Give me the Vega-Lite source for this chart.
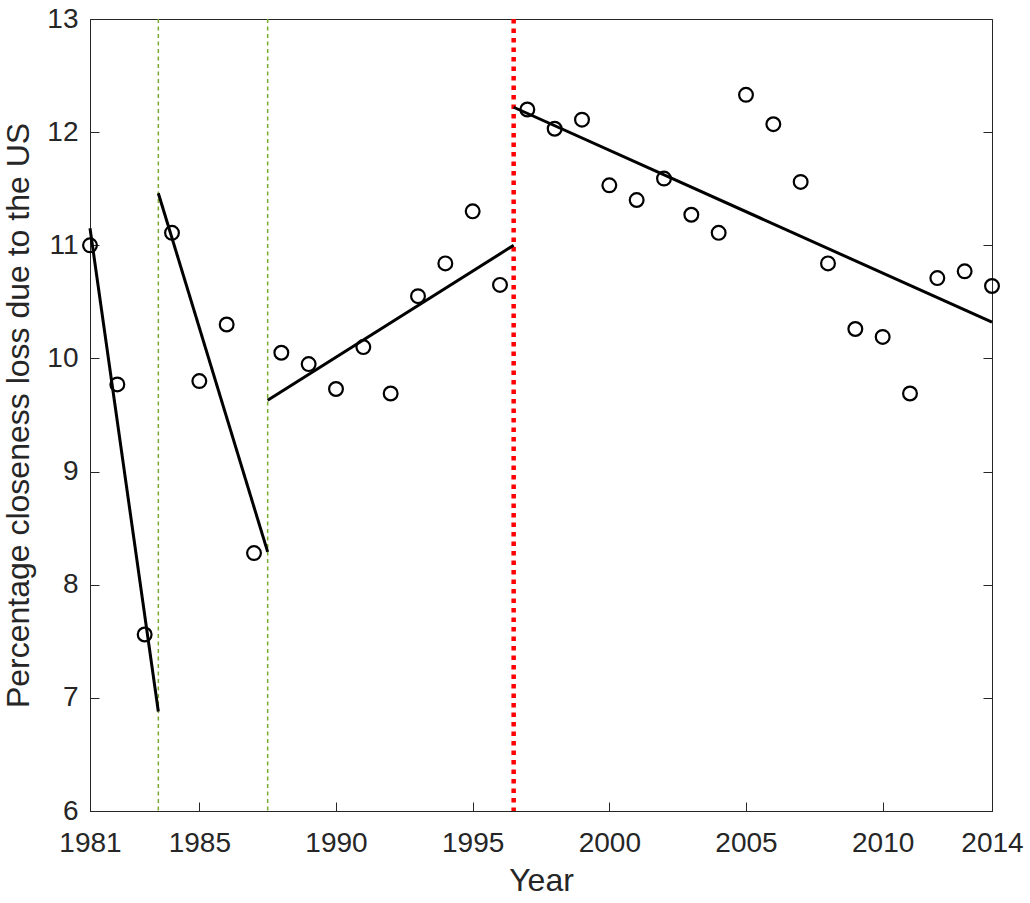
{
  "$schema": "https://vega.github.io/schema/vega-lite/v6.json",
  "width": 902,
  "height": 792,
  "autosize": {"type": "none"},
  "padding": {"left": 90, "top": 19, "right": 38, "bottom": 92},
  "background": "white",
  "config": {
    "view": {"stroke": "#262626", "strokeWidth": 1},
    "font": "Liberation Sans",
    "axis": {
      "grid": false,
      "domainColor": "#262626",
      "tickColor": "#262626",
      "labelColor": "#262626",
      "titleColor": "#262626",
      "labelFont": "Liberation Sans",
      "titleFont": "Liberation Sans",
      "labelFontSize": 28,
      "titleFontSize": 32,
      "titleFontWeight": "normal",
      "labelFlush": false,
      "labelOverlap": false,
      "tickSize": -9,
      "tickWidth": 1,
      "domainWidth": 1
    }
  },
  "datasets": {
    "pts": [
      {"year": 1981, "value": 11.00},
      {"year": 1982, "value": 9.77},
      {"year": 1983, "value": 7.56},
      {"year": 1984, "value": 11.11},
      {"year": 1985, "value": 9.80},
      {"year": 1986, "value": 10.30},
      {"year": 1987, "value": 8.28},
      {"year": 1988, "value": 10.05},
      {"year": 1989, "value": 9.95},
      {"year": 1990, "value": 9.73},
      {"year": 1991, "value": 10.10},
      {"year": 1992, "value": 9.69},
      {"year": 1993, "value": 10.55},
      {"year": 1994, "value": 10.84},
      {"year": 1995, "value": 11.30},
      {"year": 1996, "value": 10.65},
      {"year": 1997, "value": 12.20},
      {"year": 1998, "value": 12.03},
      {"year": 1999, "value": 12.11},
      {"year": 2000, "value": 11.53},
      {"year": 2001, "value": 11.40},
      {"year": 2002, "value": 11.59},
      {"year": 2003, "value": 11.27},
      {"year": 2004, "value": 11.11},
      {"year": 2005, "value": 12.33},
      {"year": 2006, "value": 12.07},
      {"year": 2007, "value": 11.56},
      {"year": 2008, "value": 10.84},
      {"year": 2009, "value": 10.26},
      {"year": 2010, "value": 10.19},
      {"year": 2011, "value": 9.69},
      {"year": 2012, "value": 10.71},
      {"year": 2013, "value": 10.77},
      {"year": 2014, "value": 10.64}
    ],
    "fit": [
      {"seg": 1, "year": 1981, "value": 11.15},
      {"seg": 1, "year": 1983.5, "value": 6.88},
      {"seg": 2, "year": 1983.5, "value": 11.46},
      {"seg": 2, "year": 1987.5, "value": 8.29},
      {"seg": 3, "year": 1987.5, "value": 9.63},
      {"seg": 3, "year": 1996.5, "value": 11.00},
      {"seg": 4, "year": 1996.5, "value": 12.22},
      {"seg": 4, "year": 2014, "value": 10.32}
    ],
    "green": [{"year": 1983.5}, {"year": 1987.5}],
    "red": [{"year": 1996.5}]
  },
  "resolve": {"axis": {"y": "independent"}},
  "encoding": {
    "x": {"field": "year", "type": "quantitative",
          "scale": {"domain": [1981, 2014], "nice": false, "zero": false},
          "axis": {"title": "Year", "values": [1981,1985,1990,1995,2000,2005,2010,2014], "format": "d", "labelPadding": 27, "titlePadding": 8}}
  },
  "layer": [
    {
      "data": {"name": "green"},
      "mark": {"type": "rule", "color": "#77AC30", "strokeWidth": 1.5, "strokeDash": [4, 3.5]}
    },
    {
      "data": {"name": "red"},
      "mark": {"type": "rule", "color": "#FF0000", "strokeWidth": 4.5, "strokeDash": [4.5, 5]}
    },
    {
      "data": {"name": "fit"},
      "mark": {"type": "line", "color": "black", "strokeWidth": 3},
      "encoding": {
        "y": {"field": "value", "type": "quantitative", "scale": {"domain": [6, 13], "nice": false, "zero": false},
              "axis": {"orient": "right", "labels": false, "title": null, "values": [6,7,8,9,10,11,12,13], "domain": false}},
        "detail": {"field": "seg"}
      }
    },
    {
      "data": {"name": "pts"},
      "mark": {"type": "point", "shape": "circle", "filled": false, "stroke": "black", "strokeWidth": 2.2, "size": 190, "opacity": 1},
      "encoding": {
        "y": {"field": "value", "type": "quantitative",
              "axis": {"title": "Percentage closeness loss due to the US", "values": [6,7,8,9,10,11,12,13], "labelPadding": 21, "titlePadding": 11}}
      }
    }
  ]
}
